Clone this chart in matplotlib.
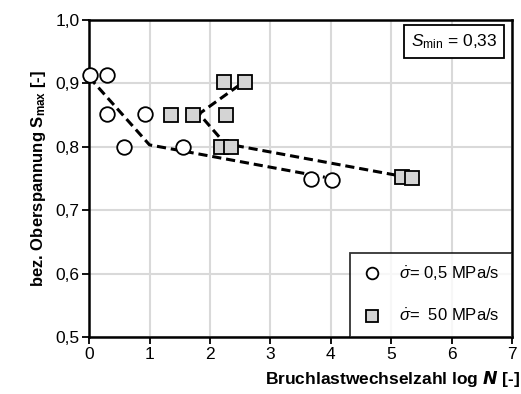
import matplotlib
matplotlib.use("Agg")
import matplotlib.pyplot as plt
from matplotlib import font_manager

# narrow Arial-like font if available
names = {f.name for f in font_manager.fontManager.ttflist}
fam = "Liberation Sans Narrow" if "Liberation Sans Narrow" in names else "Liberation Sans"
plt.rcParams["font.family"] = [fam, "DejaVu Sans"]
plt.rcParams["mathtext.fontset"] = "custom"
plt.rcParams["mathtext.rm"] = fam
plt.rcParams["mathtext.it"] = fam + ":italic"
plt.rcParams["mathtext.bf"] = fam + ":bold"

# sigma-dot = 0,5 MPa/s
x_slow = [0.02, 0.30, 0.30, 0.93, 0.58, 1.56, 3.68, 4.02]
s_slow = [0.913, 0.913, 0.851, 0.851, 0.800, 0.800, 0.749, 0.748]
# sigma-dot = 50 MPa/s
x_fast = [2.23, 2.58, 1.36, 1.72, 2.27, 2.18, 2.35, 5.18, 5.34]
s_fast = [0.902, 0.902, 0.850, 0.850, 0.850, 0.800, 0.800, 0.752, 0.751]

# Trendlinien
fit_slow_x = [0.0, 1.0, 3.9]
fit_slow_s = [0.91, 0.803, 0.752]
fit_fast_x = [2.48, 1.82, 2.25, 5.15]
fit_fast_s = [0.897, 0.852, 0.805, 0.754]

fig = plt.figure(figsize=(5.21, 3.94), dpi=100)
ax = fig.add_axes([0.171, 0.145, 0.812, 0.804])

ax.plot(fit_slow_x, fit_slow_s, color="black", lw=2.2, ls=(0, (3, 1.6)), zorder=2)
ax.plot(fit_fast_x, fit_fast_s, color="black", lw=2.2, ls=(0, (3, 1.6)), zorder=2)
ax.plot(x_slow, s_slow, "o", ms=10.5, mfc="white", mec="black", mew=1.3,
        ls="none", zorder=3, clip_on=False, label=r"$\dot{\sigma}$= 0,5 MPa/s")
ax.plot(x_fast, s_fast, "s", ms=10, mfc="#d4d4d4", mec="black", mew=1.3,
        ls="none", zorder=3, label=r"$\dot{\sigma}$=  50 MPa/s")

ax.set_xlim(0, 7)
ax.set_ylim(0.5, 1.0)
ax.set_xticks(range(0, 8))
ax.set_yticks([0.5, 0.6, 0.7, 0.8, 0.9, 1.0])
ax.set_yticklabels(["0,5", "0,6", "0,7", "0,8", "0,9", "1,0"])
ax.grid(True, color="#d9d9d9", lw=1.5, zorder=0)
ax.set_axisbelow(True)
for sp in ax.spines.values():
    sp.set_linewidth(1.8)
ax.tick_params(direction="out", length=5, width=1.3, labelsize=12.5, pad=2)

ax.set_ylabel(r"bez. Oberspannung S$_{\mathbf{max}}$ [-]", fontsize=12,
              fontweight="bold", labelpad=5)
fig.text(0.998, 0.012, r"Bruchlastwechselzahl log $\boldsymbol{N}$ [-]", fontsize=12.5,
         fontweight="bold", ha="right", va="bottom")

leg = ax.legend(loc="lower right", fontsize=12, frameon=True, fancybox=False,
                edgecolor="black", borderpad=0.75, labelspacing=1.5,
                handlelength=1.2, handletextpad=1.0, markerscale=0.8,
                borderaxespad=0)
leg.get_frame().set_linewidth(1.3)
leg.set_zorder(5)

ax.text(0.965, 0.962, r"$S_{\rm min}$ = 0,33", transform=ax.transAxes, fontsize=12.5,
        ha="right", va="top",
        bbox=dict(boxstyle="square,pad=0.4", fc="white", ec="black", lw=1.3))

fig.savefig("out.png", dpi=100)
